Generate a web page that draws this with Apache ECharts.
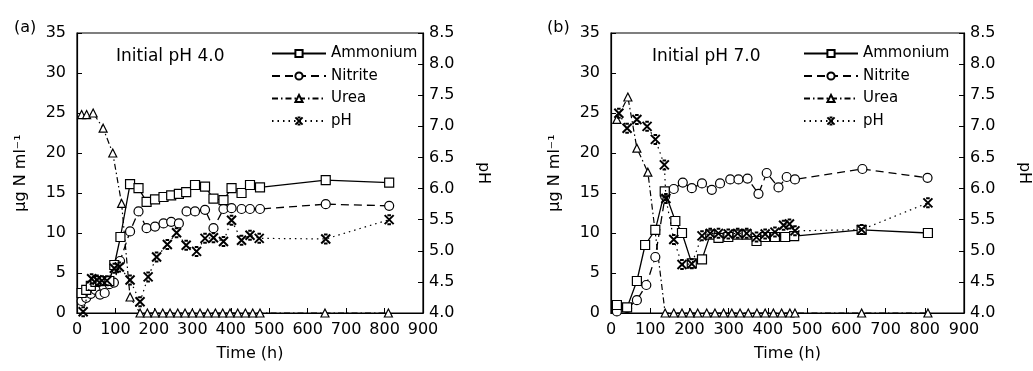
<!DOCTYPE html>
<html>
<head>
<meta charset="utf-8">
<script src="https://cdn.jsdelivr.net/npm/echarts@6/dist/echarts.min.js"></script>
<style>
  html, body { margin: 0; padding: 0; background: #fff; }
  #chart { width: 1033px; height: 371px; }
</style>
</head>
<body>
<div id="chart"></div>
<script>
// Panel (a): initial pH 4.0 — time (h) and concentrations (µg N/ml), pH
const tAmmA = [12, 24, 36, 48, 60, 72, 84, 97, 113, 138, 160, 181, 203, 225, 245, 265, 284, 307, 333, 355, 381, 402, 428, 450, 476, 647, 812];
const ammA  = [2.5, 2.9, 3.4, 3.9, 4.0, 4.0, 4.0, 6.0, 9.5, 16.1, 15.6, 13.9, 14.2, 14.5, 14.7, 14.9, 15.1, 16.0, 15.8, 14.3, 14.1, 15.6, 15.0, 16.0, 15.7, 16.6, 16.3];
const tNitA = [12, 24, 36, 48, 60, 72, 84, 96, 112, 138, 160, 181, 203, 225, 245, 265, 285, 307, 333, 355, 381, 402, 428, 450, 476, 647, 812];
const nitA  = [1.5, 1.9, 2.4, 2.9, 2.3, 2.5, 3.6, 3.8, 6.5, 10.2, 12.7, 10.6, 10.8, 11.2, 11.4, 11.2, 12.7, 12.7, 12.9, 10.6, 13.0, 13.1, 13.0, 13.0, 13.0, 13.6, 13.4];
const tUreaA = [12, 25, 42, 68, 93, 116, 138, 164, 183, 203, 223, 242, 262, 281, 300, 320, 340, 360, 379, 398, 418, 438, 457, 476, 645, 810];
const ureaA  = [24.8, 24.8, 25.0, 23.1, 20.0, 13.7, 2.0, 0, 0, 0, 0, 0, 0, 0, 0, 0, 0, 0, 0, 0, 0, 0, 0, 0, 0, 0];
const tPhA = [16, 38, 52, 65, 78, 97, 110, 138, 164, 185, 207, 235, 259, 284, 311, 333, 355, 381, 402, 428, 450, 474, 647, 812];
const phA  = [4.02, 4.55, 4.53, 4.52, 4.52, 4.72, 4.74, 4.53, 4.18, 4.58, 4.90, 5.10, 5.29, 5.09, 4.99, 5.20, 5.21, 5.15, 5.49, 5.17, 5.25, 5.20, 5.19, 5.50];

// Panel (b): initial pH 7.0
const tAmmB = [15, 41, 66, 87, 113, 137, 164, 181, 206, 232, 253, 274, 299, 323, 346, 371, 393, 418, 444, 467, 639, 808];
const ammB  = [1.0, 0.7, 4.0, 8.5, 10.4, 15.2, 11.5, 10.0, 6.2, 6.7, 9.8, 9.4, 9.5, 9.8, 9.8, 9.0, 9.5, 9.5, 9.5, 9.6, 10.4, 10.0];
const tNitB = [15, 41, 66, 90, 113, 138, 160, 183, 206, 232, 257, 278, 304, 325, 348, 376, 397, 427, 448, 469, 641, 807];
const nitB  = [0.2, 0.6, 1.6, 3.5, 7.0, 14.6, 15.5, 16.3, 15.6, 16.2, 15.4, 16.2, 16.7, 16.7, 16.8, 14.9, 17.5, 15.7, 17.0, 16.7, 18.0, 16.9];
const tUreaB = [15, 43, 66, 94, 138, 160, 181, 202, 221, 244, 265, 287, 308, 329, 350, 372, 393, 414, 435, 456, 469, 639, 808];
const ureaB  = [24.2, 27.0, 20.6, 17.6, 0, 0, 0, 0, 0, 0, 0, 0, 0, 0, 0, 0, 0, 0, 0, 0, 0, 0, 0];
const tPhB = [20, 41, 66, 92, 113, 136, 140, 160, 181, 206, 232, 253, 274, 299, 323, 346, 371, 393, 418, 440, 455, 469, 639, 808];
const phB  = [7.21, 6.97, 7.11, 7.00, 6.79, 6.38, 5.84, 5.18, 4.78, 4.79, 5.24, 5.28, 5.28, 5.27, 5.28, 5.28, 5.22, 5.27, 5.30, 5.41, 5.43, 5.32, 5.34, 5.77];

// Axis ticks
const timeTicks = { min: 0, max: 900, interval: 100 };
const concTicks = { min: 0, max: 35, interval: 5 };
const phTicks = { min: 4.0, max: 8.5, interval: 0.5 };

const panelTags = ['(a)', '(b)'];
const panelNotes = ['Initial pH 4.0', 'Initial pH 7.0'];
const seriesNames = ['Ammonium', 'Nitrite', 'Urea', 'pH'];

const FONT = 'DejaVu Sans';
const INK = '#000';

const pairs = (ts, vs) => ts.map((t, i) => [t, vs[i]]);
// cross with short caps, stroked only
const asterisk = 'path://M0,0L10,10M10,0L0,10M3,0L7,0M3,10L7,10';

const grids = [
  { left: 77, top: 33, width: 346, height: 280 },
  { left: 611, top: 33, width: 353, height: 280 }
];

function xAxisFor(i) {
  return {
    type: 'value', gridIndex: i, ...timeTicks,
    name: 'Time (h)', nameLocation: 'middle', nameGap: 33,
    nameTextStyle: { fontFamily: FONT, fontSize: 16, color: INK },
    axisLine: { lineStyle: { color: INK, width: 1.2 } },
    axisTick: { inside: true, length: 5, lineStyle: { color: INK } },
    axisLabel: { fontFamily: FONT, fontSize: 16, color: INK, margin: 9 },
    splitLine: { show: false }
  };
}
function concAxisFor(i) {
  return {
    type: 'value', gridIndex: i, position: 'left', ...concTicks,
    name: 'µg N ml⁻¹', nameLocation: 'middle', nameGap: 48,
    nameTextStyle: { fontFamily: FONT, fontSize: 16, color: INK },
    axisLine: { show: true, lineStyle: { color: INK, width: 1.2 } },
    axisTick: { inside: true, length: 5, lineStyle: { color: INK } },
    axisLabel: { fontFamily: FONT, fontSize: 16, color: INK, margin: 11 },
    splitLine: { show: false }
  };
}
function phAxisFor(i) {
  return {
    type: 'value', gridIndex: i, position: 'right', ...phTicks,
    name: 'pH', nameLocation: 'middle', nameGap: 52, nameRotate: -90,
    nameTextStyle: { fontFamily: FONT, fontSize: 16, color: INK },
    axisLine: { show: true, lineStyle: { color: INK, width: 1.2 } },
    axisTick: { inside: true, length: 5, lineStyle: { color: INK } },
    axisLabel: { fontFamily: FONT, fontSize: 16, color: INK, margin: 6, formatter: v => v.toFixed(1) },
    splitLine: { show: false }
  };
}

const markerStyle = { color: '#fff', borderColor: INK, borderWidth: 1.2 };

function panelSeries(i, data) {
  const xi = i, yc = i * 2, yp = i * 2 + 1;
  return [
    { name: 'Ammonium', type: 'line', xAxisIndex: xi, yAxisIndex: yc, data: data.amm,
      symbol: 'rect', symbolSize: 9, lineStyle: { color: INK, width: 1.3, type: 'solid' },
      itemStyle: markerStyle, z: 4 },
    { name: 'Nitrite', type: 'line', xAxisIndex: xi, yAxisIndex: yc, data: data.nit,
      symbol: 'circle', symbolSize: 9, lineStyle: { color: INK, width: 1.3, type: [8, 5] },
      itemStyle: markerStyle, z: 3 },
    { name: 'Urea', type: 'line', xAxisIndex: xi, yAxisIndex: yc, data: data.urea,
      symbol: 'triangle', symbolSize: 8, lineStyle: { color: INK, width: 1.2, type: [6, 3, 1.5, 3] },
      itemStyle: markerStyle, z: 2 },
    { name: 'pH', type: 'line', xAxisIndex: xi, yAxisIndex: yp, data: data.ph,
      symbol: asterisk, symbolSize: 9, lineStyle: { color: INK, width: 1.2, type: [1.5, 4] },
      itemStyle: { color: 'rgba(0,0,0,0)', borderColor: INK, borderWidth: 2 }, z: 5 }
  ];
}

const chart = echarts.init(document.getElementById('chart'), null, { renderer: 'canvas' });

const legendBase = {
  orient: 'vertical', data: seriesNames, selectedMode: false, padding: 0,
  itemWidth: 54, itemHeight: 9, itemGap: 7.5,
  textStyle: { fontFamily: FONT, fontSize: 15, color: INK }
};

chart.setOption({
  animation: false,
  backgroundColor: '#fff',
  grid: grids.map(g => ({ ...g, show: true, borderColor: INK, borderWidth: 1.2, backgroundColor: 'transparent' })),
  title: [
    { text: panelTags[0], left: 9, top: 15, textStyle: { fontFamily: FONT, fontSize: 16, fontWeight: 'normal', color: INK } },
    { text: panelTags[1], left: 542, top: 15, textStyle: { fontFamily: FONT, fontSize: 16, fontWeight: 'normal', color: INK } },
    { text: panelNotes[0], left: 111, top: 43, textStyle: { fontFamily: FONT, fontSize: 17, fontWeight: 'normal', color: INK } },
    { text: panelNotes[1], left: 647, top: 43, textStyle: { fontFamily: FONT, fontSize: 17, fontWeight: 'normal', color: INK } }
  ],
  legend: [
    { ...legendBase, left: 271, top: 46 },
    { ...legendBase, left: 803, top: 46 }
  ],
  xAxis: [xAxisFor(0), xAxisFor(1)],
  yAxis: [concAxisFor(0), phAxisFor(0), concAxisFor(1), phAxisFor(1)],
  series: [
    ...panelSeries(0, {
      amm: pairs(tAmmA, ammA), nit: pairs(tNitA, nitA),
      urea: pairs(tUreaA, ureaA), ph: pairs(tPhA, phA)
    }),
    ...panelSeries(1, {
      amm: pairs(tAmmB, ammB), nit: pairs(tNitB, nitB),
      urea: pairs(tUreaB, ureaB), ph: pairs(tPhB, phB)
    })
  ]
});
</script>
</body>
</html>
